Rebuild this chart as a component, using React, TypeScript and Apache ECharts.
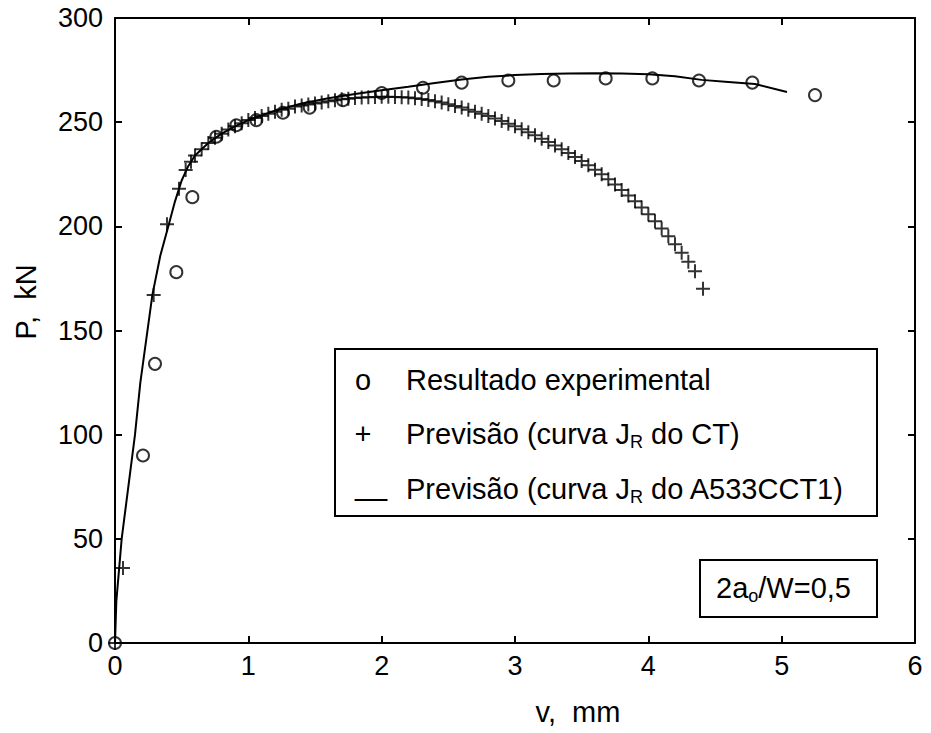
import React, { useEffect, useRef } from 'react';
import * as echarts from 'echarts';

// x-axis: v (mm); y-axis: P (kN)
const xTicks = [0, 1, 2, 3, 4, 5, 6];
const yTicks = [0, 50, 100, 150, 200, 250, 300];

// Resultado experimental (o)
const expX = [0, 0.21, 0.30, 0.46, 0.58, 0.76, 0.91, 1.06, 1.26, 1.46, 1.71, 2.0, 2.31, 2.6, 2.95, 3.29, 3.68, 4.03, 4.38, 4.78, 5.25];
const expY = [0, 90, 134, 178, 214, 243, 248.5, 251, 254.5, 257, 260.5, 264, 266.5, 269, 270, 270, 271, 271, 270, 269, 263];

// Previsão (curva J_R do CT) (+)
const ctX = [0, 0.06, 0.29, 0.39, 0.48, 0.53, 0.57, 0.60, 0.65, 0.70, 0.75, 0.80, 0.85, 0.90, 0.95, 1.00, 1.05, 1.10, 1.15, 1.20, 1.25, 1.30, 1.35, 1.40, 1.45, 1.50, 1.55, 1.60, 1.65, 1.70, 1.75, 1.80, 1.85, 1.90, 1.95, 2.00, 2.05, 2.10, 2.15, 2.20, 2.25, 2.30, 2.35, 2.40, 2.45, 2.50, 2.55, 2.60, 2.65, 2.70, 2.75, 2.80, 2.85, 2.90, 2.95, 3.00, 3.05, 3.10, 3.15, 3.20, 3.25, 3.30, 3.35, 3.40, 3.45, 3.50, 3.55, 3.60, 3.65, 3.70, 3.75, 3.80, 3.85, 3.90, 3.95, 4.00, 4.05, 4.10, 4.15, 4.20, 4.25, 4.30, 4.35, 4.41];
const ctY = [0, 36, 167, 201, 218, 227, 231, 234, 237, 240, 242.5, 244.5, 246.5, 248, 249.5, 251, 252, 253, 254, 255, 256, 256.5, 257.5, 258, 258.5, 259, 259.5, 260, 260.5, 261, 261.3, 261.6, 261.8, 262, 262.1, 262.2, 262.2, 262.1, 262, 261.8, 261.5, 261.1, 260.6, 260, 259.4, 258.6, 257.8, 257, 256, 255, 254, 253, 251.8, 250.6, 249.3, 248, 246.6, 245.2, 243.7, 242.1, 240.5, 238.8, 237, 235.2, 233.3, 231.4, 229.3, 227.2, 225, 222.6, 220.1, 217.5, 214.8, 212, 209, 205.8, 202.5, 199, 195.3, 191.4, 187.3, 183, 178.5, 170];

// Previsão (curva J_R do A533CCT1) (line)
const cctX = [0, 0.01, 0.05, 0.15, 0.19, 0.28, 0.34, 0.40, 0.45, 0.50, 0.55, 0.60, 0.70, 0.80, 0.90, 1.00, 1.20, 1.40, 1.60, 1.80, 2.00, 2.20, 2.40, 2.60, 2.80, 3.00, 3.20, 3.40, 3.60, 3.80, 4.00, 4.20, 4.40, 4.60, 4.80, 5.04];
const cctY = [0, 20, 50, 100, 125, 167, 186, 200, 212, 222, 229, 234, 240, 244.5, 248, 251, 255.5, 259, 261.5, 263.5, 265.3, 267, 268.8, 270.5, 271.8, 272.6, 273.1, 273.4, 273.5, 273.4, 273, 272, 270.3, 269.3, 268.3, 264.5];

const legendSymbols = ['o', '+', '__'];
const legendTexts = [
  '{n|Resultado experimental}',
  '{n|Previsão (curva J}{s|R}{n| do CT)}',
  '{n|Previsão (curva J}{s|R}{n| do A533CCT1)}',
];
const noteText = '{n|2a}{s|o}{n|/W=0,5}';
const xName = 'v,  mm';
const yName = 'P,  kN';

const FONT = '"Liberation Sans", Arial, Helvetica, sans-serif';
const PLUS = 'path://M7,0 L7,14 M0,7 L14,7';

export default function App() {
  const ref = useRef<HTMLDivElement>(null);
  useEffect(() => {
    document.body.style.margin = '0';
    const chart = echarts.init(ref.current!, null, { renderer: 'svg' });
    const zip = (xs: number[], ys: number[]) => xs.map((x, i) => [x, ys[i]]);
    const axisCommon = {
      type: 'value' as const,
      axisLine: { show: true, onZero: false, lineStyle: { color: '#000', width: 2 } },
      axisTick: { show: true, inside: true, length: 7, lineStyle: { color: '#000', width: 2 } },
      splitLine: { show: false },
    };
    const rich = {
      n: { fontSize: 29, fontFamily: FONT, color: '#000', lineHeight: 33 },
      s: { fontSize: 18, fontFamily: FONT, color: '#000', lineHeight: 18, verticalAlign: 'bottom' as const },
    };
    const graphic: any[] = [
      { type: 'rect', shape: { x: 335, y: 349, width: 542, height: 167 }, style: { fill: '#fff', stroke: '#000', lineWidth: 2 }, z: 10 },
      { type: 'rect', shape: { x: 700, y: 560, width: 177, height: 57 }, style: { fill: '#fff', stroke: '#000', lineWidth: 2 }, z: 10 },
      { type: 'text', x: 716, y: 588, style: { text: noteText, rich, verticalAlign: 'middle' }, z: 11 },
      { type: 'text', x: 578, y: 712, style: { text: xName, font: `29px ${FONT}`, fill: '#000', align: 'center', verticalAlign: 'middle' } },
      { type: 'text', x: 26, y: 302, rotation: Math.PI / 2, style: { text: yName, font: `29px ${FONT}`, fill: '#000', align: 'center', verticalAlign: 'middle' } },
    ];
    const rowsY = [380, 434, 489];
    const symX = [363, 363, 371];
    legendSymbols.forEach((sym, i) => {
      graphic.push({ type: 'text', x: symX[i], y: sym === '__' ? rowsY[i] - 4 : rowsY[i], z: 11,
        style: { text: sym, font: `29px ${FONT}`, fill: '#000', align: 'center', verticalAlign: 'middle' } });
      graphic.push({ type: 'text', x: 406, y: rowsY[i], z: 11,
        style: { text: legendTexts[i], rich, verticalAlign: 'middle' } });
    });

    chart.setOption({
      animation: false,
      backgroundColor: '#fff',
      grid: { left: 115, right: 16, top: 18, bottom: 90, containLabel: false },
      xAxis: [
        { ...axisCommon, position: 'bottom', min: 0, max: 6, interval: 1,
          axisLabel: { show: true, margin: 9, fontSize: 27, fontFamily: FONT, color: '#000',
            formatter: (v: number) => (xTicks.includes(v) ? String(v) : '') } },
        { ...axisCommon, position: 'top', min: 0, max: 6, interval: 1, axisLabel: { show: false } },
      ],
      yAxis: [
        { ...axisCommon, position: 'left', min: 0, max: 300, interval: 50,
          axisLabel: { show: true, margin: 12, fontSize: 27, fontFamily: FONT, color: '#000',
            formatter: (v: number) => (yTicks.includes(v) ? String(v) : '') } },
        { ...axisCommon, position: 'right', min: 0, max: 300, interval: 50, axisLabel: { show: false } },
      ],
      series: [
        { type: 'line', data: zip(cctX, cctY), showSymbol: false, symbol: 'none',
          lineStyle: { color: '#000', width: 2 }, z: 3 },
        { type: 'scatter', data: zip(ctX, ctY), symbol: PLUS, symbolSize: 14,
          itemStyle: { color: 'transparent', borderColor: '#000', borderWidth: 2 }, z: 4 },
        { type: 'scatter', data: zip(expX, expY), symbol: 'circle', symbolSize: 12,
          itemStyle: { color: 'transparent', borderColor: '#000', borderWidth: 2 }, z: 5 },
      ],
      graphic,
    });
    return () => chart.dispose();
  }, []);
  return <div ref={ref} style={{ width: 931, height: 733 }} />;
}
